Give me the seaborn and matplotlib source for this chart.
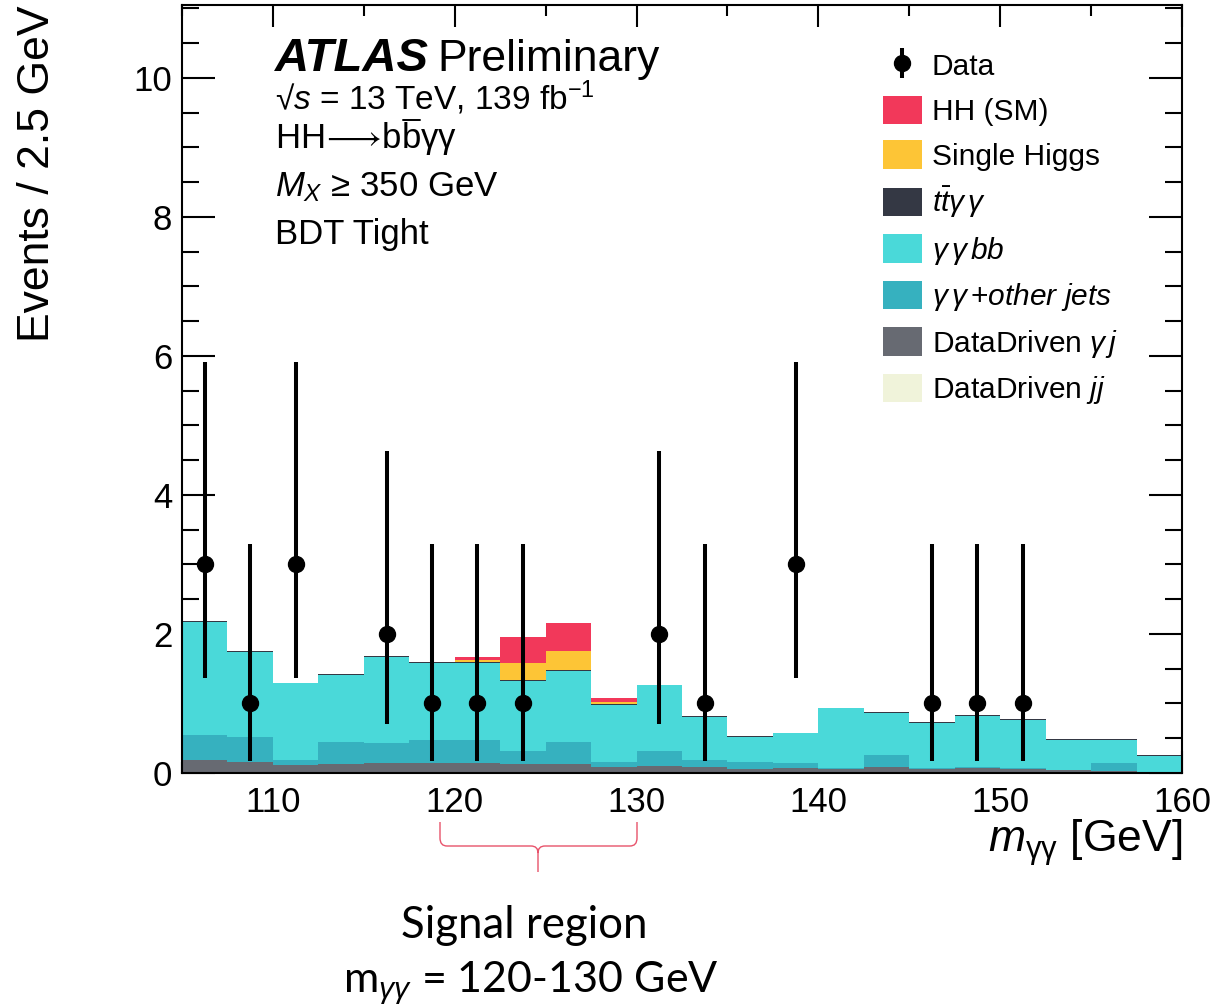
import numpy as np
import pandas as pd
import matplotlib
matplotlib.use("Agg")
import matplotlib.pyplot as plt
import seaborn as sns
from matplotlib.patches import Patch, PathPatch
from matplotlib.path import Path
from matplotlib.lines import Line2D
from matplotlib.transforms import Affine2D

# ---------------- data ----------------
bin_edges = [105.0 + 2.5 * i for i in range(23)]
bin_centers = np.array([0.5 * (a + b) for a, b in zip(bin_edges[:-1], bin_edges[1:])])

processes = ["HH (SM)", "Single Higgs", "ttyy", "yybb", "yy+other jets", "DataDriven yj", "DataDriven jj"]
legend_labels = ["HH (SM)", "Single Higgs", r"$t\bar{t}\gamma\,\gamma$", r"$\gamma\,\gamma\,bb$",
                 r"$\gamma\,\gamma\,\mathit{+other\ jets}$", r"DataDriven $\gamma\,j$", r"DataDriven $jj$"]
colors = ["#F2385A", "#FDC536", "#343844", "#4AD9D9", "#36B1BF", "#676A72", "#F0F3DA"]

hh_sm = [0, 0, 0, 0, 0, 0, 0.045, 0.37, 0.40, 0.045, 0, 0, 0, 0, 0, 0, 0, 0, 0, 0, 0, 0]
single_higgs = [0, 0, 0, 0, 0, 0, 0.025, 0.25, 0.27, 0.03, 0, 0, 0, 0, 0, 0, 0, 0, 0, 0, 0, 0]
ttyy = [0.012] * 22
yybb = [1.63, 1.225, 1.103, 0.96, 1.234, 1.10, 1.105, 1.00, 1.02, 0.822, 0.94, 0.623,
        0.357, 0.42, 0.86, 0.61, 0.65, 0.745, 0.697, 0.43, 0.32, 0.225]
yy_other = [0.353, 0.366, 0.072, 0.32, 0.286, 0.34, 0.34, 0.195, 0.316, 0.073, 0.215, 0.107,
            0.10, 0.083, 0.01, 0.18, 0.01, 0.013, 0.01, 0.01, 0.12, 0.0]
dd_yj = [0.187, 0.154, 0.115, 0.13, 0.15, 0.14, 0.14, 0.125, 0.134, 0.09, 0.105, 0.08,
         0.058, 0.067, 0.06, 0.08, 0.06, 0.067, 0.058, 0.04, 0.03, 0.02]
dd_jj = [0.0] * 22

data_counts = [3, 1, 3, 0, 2, 1, 1, 1, 0, 0, 2, 1, 0, 3, 0, 0, 1, 1, 1, 0, 0, 0]
data_err_low = [1.63, 0.83, 1.63, 0, 1.29, 0.83, 0.83, 0.83, 0, 0, 1.29, 0.83, 0, 1.63, 0, 0, 0.83, 0.83, 0.83, 0, 0, 0]
data_err_high = [2.92, 2.30, 2.92, 0, 2.64, 2.30, 2.30, 2.30, 0, 0, 2.64, 2.30, 0, 2.92, 0, 0, 2.30, 2.30, 2.30, 0, 0, 0]

series = [hh_sm, single_higgs, ttyy, yybb, yy_other, dd_yj, dd_jj]
rows = []
for proc, vals in zip(processes, series):
    for c, v in zip(bin_centers, vals):
        rows.append({"mgg": float(c), "w": float(v), "process": proc})
df = pd.DataFrame(rows)

# ---------------- style ----------------
sns.set_theme(style="ticks")
plt.rcParams["font.family"] = ["Liberation Sans", "DejaVu Sans"]
plt.rcParams["mathtext.fontset"] = "custom"
plt.rcParams["mathtext.rm"] = "Liberation Sans"
plt.rcParams["mathtext.it"] = "Liberation Sans:italic"
plt.rcParams["mathtext.bf"] = "Liberation Sans:bold"
plt.rcParams["mathtext.sf"] = "Liberation Sans"
plt.rcParams["mathtext.fallback"] = "stixsans"
for key in ["text.color", "axes.labelcolor", "xtick.color", "ytick.color", "axes.edgecolor"]:
    plt.rcParams[key] = "black"

W, H = 1217, 1008
fig = plt.figure(figsize=(W / 100, H / 100), dpi=100)
ax = fig.add_axes([182 / W, 1 - 773 / H, 1000 / W, 768 / H])

sns.histplot(data=df, x="mgg", weights="w", hue="process", hue_order=processes,
             multiple="stack", bins=bin_edges, element="step", fill=True,
             palette=colors, alpha=1, linewidth=0, legend=False, ax=ax)

dc = np.array(data_counts, dtype=float)
mask = dc > 0
eb = ax.errorbar(bin_centers[mask], dc[mask],
                 yerr=[np.array(data_err_low)[mask], np.array(data_err_high)[mask]],
                 fmt="o", color="black", ms=11.5, elinewidth=2.9, capsize=0, zorder=5)

ax.set_xlim(105, 160)
ax.set_ylim(0, 11.05)
ax.set_xticks(np.arange(110, 161, 10))
ax.set_xticks(np.arange(105, 161, 5), minor=True)
ax.set_yticks(np.arange(0, 11, 2))
ax.set_yticks(np.arange(0, 11.01, 0.5), minor=True)
ax.tick_params(axis="both", which="both", direction="in", top=True, right=True,
               width=1.5, color="black", labelcolor="black", labelsize=25)
ax.tick_params(axis="x", which="major", length=16, pad=9)
ax.tick_params(axis="x", which="minor", length=8)
ax.tick_params(axis="y", which="major", length=24, pad=7)
ax.tick_params(axis="y", which="minor", length=12)
for s in ax.spines.values():
    s.set_linewidth(1.5)
    s.set_color("black")
ax.set_facecolor("white")

ax.set_ylabel("Events / 2.5 GeV", fontsize=32, loc="top", color="black")
ax.yaxis.set_label_coords(-0.124, 1.0)
ax.set_xlabel(r"$m_{\mathrm{\gamma\gamma}}$ [GeV]", fontsize=32, loc="right", color="black")
ax.xaxis.set_label_coords(1.0, -0.058)

# ---------------- text block ----------------
def axy(py):
    return (773 - py) / 768

def axx(px):
    return (px - 182) / 1000

ax.text(axx(275), axy(71), "ATLAS", transform=ax.transAxes, fontsize=34,
        fontweight="bold", fontstyle="italic", va="baseline", ha="left")
ax.text(axx(437), axy(71), "Preliminary", transform=ax.transAxes, fontsize=32,
        va="baseline", ha="left")
ax.text(axx(275), axy(110), "√$s$ = 13 TeV, 139 fb$^{-1}$", transform=ax.transAxes,
        fontsize=24, va="baseline", ha="left")
hh_prefix = r"HH$\!\longrightarrow\!$b"
ax.text(axx(275), axy(148), hh_prefix + "bγγ",
        transform=ax.transAxes, fontsize=25, va="baseline", ha="left")
ax.text(axx(275), axy(196), r"$M_X$ ≥ 350 GeV", transform=ax.transAxes,
        fontsize=25, va="baseline", ha="left")
ax.text(axx(275), axy(244), "BDT Tight", transform=ax.transAxes,
        fontsize=25, va="baseline", ha="left")

# overline on the anti-b quark, placed from measured text widths
fig.canvas.draw()
renderer = fig.canvas.get_renderer()
t1 = ax.text(axx(275), axy(148), hh_prefix, transform=ax.transAxes, fontsize=25,
             va="baseline", ha="left")
t2 = ax.text(axx(275), axy(148), hh_prefix + "b", transform=ax.transAxes, fontsize=25,
             va="baseline", ha="left")
xa = t1.get_window_extent(renderer).x1
xb = t2.get_window_extent(renderer).x1
t1.remove()
t2.remove()
bar_y = 1 - 120 / H
fig.add_artist(Line2D([(xa + 1.5) / W, (xb - 1.5) / W], [bar_y, bar_y],
                      transform=fig.transFigure, color="black", lw=1.4))

# ---------------- legend ----------------
handles = [eb] + [Patch(facecolor=c, edgecolor="none") for c in colors]
labels = ["Data"] + legend_labels
ax.legend(handles, labels, loc="upper left", bbox_to_anchor=(axx(883), axy(51)),
          frameon=False, fontsize=21.5, borderpad=0, borderaxespad=0,
          handlelength=1.3, handleheight=1.1, handletextpad=0.33, labelspacing=0.47)

# ---------------- signal-region brace ----------------
verts = [(440, 822), (440, 838), (440, 846), (447, 846), (531, 846), (538, 846), (538, 853), (538, 872),
         (538, 853), (538, 846), (545, 846), (630, 846), (637, 846), (637, 838), (637, 822)]
codes = [Path.MOVETO, Path.LINETO, Path.CURVE3, Path.CURVE3, Path.LINETO, Path.CURVE3, Path.CURVE3, Path.LINETO,
         Path.MOVETO, Path.CURVE3, Path.CURVE3, Path.LINETO, Path.CURVE3, Path.CURVE3, Path.LINETO]
tr = Affine2D().scale(1 / W, -1 / H).translate(0, 1) + fig.transFigure
brace = PathPatch(Path(verts, codes), facecolor="none", edgecolor="#E8536B", lw=1.0, transform=tr)
fig.add_artist(brace)

fig.text(524 / W, 1 - 925 / H, "Signal region", fontsize=31.5, family=["Lato", "DejaVu Sans"],
         ha="center", va="center", color="black")
fig.text(531 / W, 1 - 983 / H, r"m$_{\gamma\gamma}$ = 120-130 GeV", fontsize=31,
         family=["Lato", "DejaVu Sans"], ha="center", va="center", color="black")

fig.savefig("out.png", dpi=100)
